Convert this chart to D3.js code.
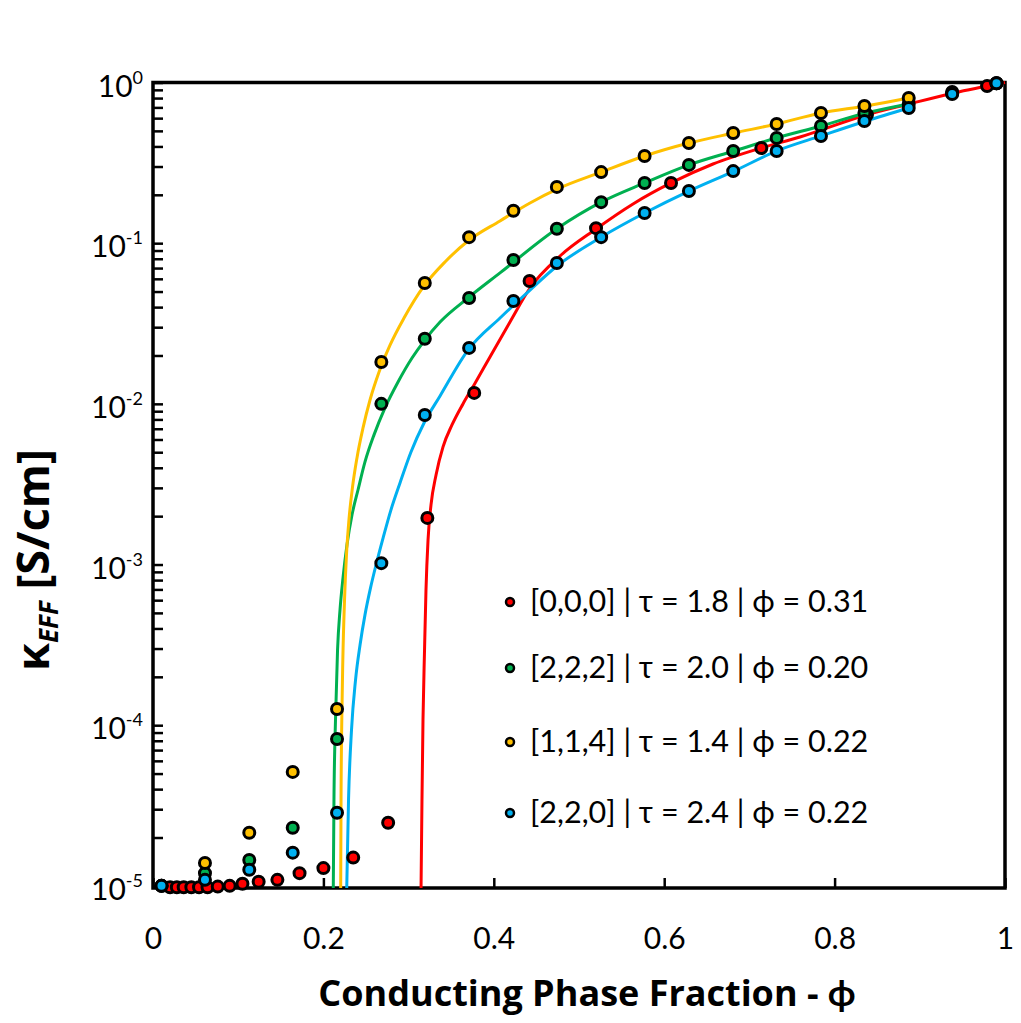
<!DOCTYPE html>
<meta charset="utf-8">
<body style="margin:0;background-color:white;">
<svg width="1021" height="1023"></svg>
<script src="https://d3js.org/d3.v7.min.js"></script>
<script>

// ---- data ----
var seriesNames = ["[0,0,0] | \u03c4 = 1.8 | \u03d5 = 0.31", "[2,2,2] | \u03c4 = 2.0 | \u03d5 = 0.20",
                   "[1,1,4] | \u03c4 = 1.4 | \u03d5 = 0.22", "[2,2,0] | \u03c4 = 2.4 | \u03d5 = 0.22"];
var seriesColors = ["#ff0000", "#00b050", "#ffc000", "#00b0f0"];

// simulated points (measured)
var phiGrid = [0.01, 0.061, 0.113, 0.164, 0.216, 0.268, 0.319, 0.371, 0.423, 0.474,
               0.526, 0.577, 0.629, 0.681, 0.732, 0.784, 0.835, 0.887, 0.938, 0.99];
var kGreen  = [1e-5, 1.2e-5, 1.45e-5, 2.3e-5, 8.2e-5, 0.0100, 0.0254, 0.0456, 0.0786, 0.123,
               0.180, 0.237, 0.307, 0.375, 0.452, 0.536, 0.646, 0.735, 0.86, 0.99];
var kYellow = [1e-5, 1.39e-5, 2.14e-5, 5.12e-5, 1.26e-4, 0.0182, 0.0565, 0.109, 0.159, 0.224,
               0.277, 0.349, 0.420, 0.485, 0.552, 0.646, 0.714, 0.801, 0.873, 0.99];
var kBlue   = [1e-5, 1.09e-5, 1.26e-5, 1.61e-5, 2.85e-5, 1.02e-3, 8.53e-3, 0.0223, 0.0437, 0.0753,
               0.109, 0.154, 0.211, 0.281, 0.375, 0.465, 0.576, 0.694, 0.847, 0.99];
var phiRed  = [0.02, 0.028, 0.036, 0.045, 0.054, 0.064, 0.076, 0.09, 0.105, 0.124, 0.146, 0.172,
               0.2, 0.235, 0.276, 0.322, 0.377, 0.442, 0.52, 0.608, 0.714, 0.838, 0.979];
var kRed    = [9.8e-6, 9.8e-6, 9.8e-6, 9.8e-6, 9.8e-6, 9.8e-6, 9.9e-6, 1.0e-5, 1.03e-5, 1.06e-5, 1.09e-5, 1.2e-5,
               1.29e-5, 1.5e-5, 2.47e-5, 1.95e-3, 0.0117, 0.0582, 0.124, 0.237, 0.391, 0.63, 0.95];

// fitted curves (traced)
var fitPhiRed = [0.3146, 0.3157, 0.3169, 0.3187, 0.3204, 0.3228, 0.3263, 0.3322, 0.3404, 0.3509, 0.3638, 0.3768,
                 0.3955, 0.4190, 0.4425, 0.4777, 0.5200, 0.5634, 0.6080, 0.6573, 0.7136, 0.7594, 0.8369, 0.8873, 0.9401, 1.0];
var fitKRed   = [9.7e-6, 3.43e-5, 1.08e-4, 2.94e-4, 6.95e-4, 1.42e-3, 2.35e-3, 3.61e-3, 5.40e-3, 7.39e-3, 9.99e-3, 0.01312,
                 0.0196, 0.0323, 0.0526, 0.0832, 0.1226, 0.1754, 0.237, 0.311, 0.391, 0.458, 0.628, 0.735, 0.861, 1.0];
var fitPhiGreen = [0.2116, 0.2124, 0.2142, 0.2166, 0.2195, 0.2230, 0.2277, 0.2336, 0.2406, 0.2488, 0.2594, 0.2723,
                   0.2876, 0.3040, 0.3181, 0.3369, 0.3697, 0.4073, 0.474, 0.526, 0.577, 0.629, 0.682, 0.732, 0.784, 0.837, 0.887];
var fitKGreen   = [9.7e-6, 3.43e-5, 1.08e-4, 2.94e-4, 5.22e-4, 8.26e-4, 1.33e-3, 2.04e-3, 2.91e-3, 4.35e-3, 6.41e-3, 9.44e-3,
                   0.01368, 0.01928, 0.0246, 0.0323, 0.0456, 0.0653, 0.123, 0.180, 0.237, 0.307, 0.375, 0.452, 0.536, 0.646, 0.735];
var fitPhiYellow = [0.2203, 0.2207, 0.2216, 0.2228, 0.2248, 0.2271, 0.2300, 0.2342, 0.2394, 0.2465, 0.2547, 0.2653,
                    0.2782, 0.2946, 0.3181, 0.3427, 0.3697, 0.4073, 0.4425, 0.4742, 0.526, 0.577, 0.629, 0.682, 0.732,
                    0.784, 0.837, 0.887];
var fitKYellow   = [9.7e-6, 3.43e-5, 1.08e-4, 2.55e-4, 6.02e-4, 1.15e-3, 1.9e-3, 3.04e-3, 4.61e-3, 7.08e-3, 0.01057, 0.01578,
                    0.0232, 0.0342, 0.0542, 0.0764, 0.1032, 0.1375, 0.178, 0.217, 0.277, 0.349, 0.420, 0.485, 0.552,
                    0.646, 0.714, 0.801];
var fitPhiBlue = [0.2274, 0.2295, 0.2330, 0.2377, 0.2430, 0.2488, 0.2553, 0.2623, 0.2700, 0.2793, 0.2899, 0.3028,
                  0.3181, 0.3369, 0.3697, 0.4073, 0.4425, 0.4742, 0.526, 0.577, 0.629, 0.682, 0.732, 0.784, 0.837, 0.887];
var fitKBlue   = [9.7e-6, 3.43e-5, 9.35e-5, 1.91e-4, 3.16e-4, 4.86e-4, 7.15e-4, 1.02e-3, 1.46e-3, 2.19e-3, 3.22e-3, 5.02e-3,
                  7.60e-3, 0.01119, 0.0216, 0.0342, 0.0511, 0.0721, 0.109, 0.154, 0.211, 0.281, 0.375, 0.465, 0.576, 0.694];

var xTicks = [0, 0.2, 0.4, 0.6, 0.8, 1];
var yDecades = [-5, -4, -3, -2, -1, 0];

// ---- layout ----
var fontName = "Lato, 'Open Sans', sans-serif";
var titleFont = "'Open Sans', Lato, sans-serif";
var plotLeft = 153, plotRight = 1005, plotTop = 82.5, plotBottom = 888;

var svg = d3.select("svg");
var x = d3.scaleLinear().domain([0, 1]).range([plotLeft, plotRight]);
var y = d3.scaleLog().domain([9.7e-6, 1]).range([plotBottom, plotTop]);

// minor + major y ticks, pointing inward
var yTickVals = [];
yDecades.forEach(function(e) {
	var d = Math.pow(10, e);
	yTickVals.push(d);
	if (e < 0) for (var k = 2; k <= 9; k++) yTickVals.push(k * d);
});

svg.append("g")
	.attr("transform", "translate(" + plotLeft + ",0)")
	.call(d3.axisLeft(y).tickValues(yTickVals).tickSizeInner(-10).tickSizeOuter(0).tickFormat(""))
	.call(function(g) { g.select(".domain").remove(); })
	.selectAll("line").attr("stroke", "black").attr("stroke-width", 2.5);

var xAxis = svg.append("g")
	.attr("transform", "translate(0," + plotBottom + ")")
	.call(d3.axisBottom(x).tickValues(xTicks).tickSizeInner(-10).tickSizeOuter(0).tickPadding(40)
		.tickFormat(function(d) { return d3.format("")(+d.toFixed(1)); }));
xAxis.select(".domain").remove();
xAxis.selectAll("line").attr("stroke", "black").attr("stroke-width", 2.5);
xAxis.selectAll("text").attr("font-family", fontName).attr("font-size", 30).attr("fill", "black");

// y labels 10^n
var yLab = svg.append("g");
yDecades.forEach(function(e) {
	var t = yLab.append("text")
		.attr("x", plotLeft - 10)
		.attr("y", y(Math.pow(10, e)) + 14)
		.attr("text-anchor", "end")
		.attr("font-family", fontName)
		.attr("font-size", 30);
	t.append("tspan").text("10");
	t.append("tspan").attr("font-size", 18).attr("dy", -13).text(e === 0 ? "0" : "-" + (-e));
});

// frame
svg.append("rect")
	.attr("x", plotLeft).attr("y", plotTop)
	.attr("width", plotRight - plotLeft).attr("height", plotBottom - plotTop)
	.attr("fill", "none").attr("stroke", "black").attr("stroke-width", 3.5);

// curves
var line = d3.line()
	.x(function(d) { return x(d[0]); })
	.y(function(d) { return y(d[1]); })
	.curve(d3.curveMonotoneX);

var fits = [[fitPhiRed, fitKRed], [fitPhiGreen, fitKGreen], [fitPhiYellow, fitKYellow], [fitPhiBlue, fitKBlue]];
fits.forEach(function(f, i) {
	svg.append("path")
		.datum(d3.zip(f[0], f[1]))
		.attr("d", line)
		.attr("fill", "none")
		.attr("stroke", seriesColors[i])
		.attr("stroke-width", 3);
});

// points
var pointSets = [d3.zip(phiRed, kRed), d3.zip(phiGrid, kGreen), d3.zip(phiGrid, kYellow), d3.zip(phiGrid, kBlue)];
pointSets.forEach(function(pts, i) {
	svg.append("g").selectAll("circle")
		.data(pts)
		.enter().append("circle")
		.attr("cx", function(d) { return x(d[0]); })
		.attr("cy", function(d) { return y(d[1]); })
		.attr("r", 5.5)
		.attr("fill", seriesColors[i])
		.attr("stroke", "black")
		.attr("stroke-width", 3);
});

// legend
var legendY = [602, 668, 742, 813];
var legend = svg.append("g");
seriesNames.forEach(function(name, i) {
	legend.append("circle")
		.attr("cx", 510).attr("cy", legendY[i]).attr("r", 4)
		.attr("fill", seriesColors[i]).attr("stroke", "black").attr("stroke-width", 2.5);
	legend.append("text")
		.attr("x", 530).attr("y", legendY[i] + 10)
		.attr("font-family", fontName).attr("font-size", 30.5)
		.text(name);
});

// axis titles
svg.append("text")
	.attr("x", 587).attr("y", 1006)
	.attr("text-anchor", "middle")
	.attr("font-family", titleFont).attr("font-weight", "bold").attr("font-size", 36)
	.text("Conducting Phase Fraction - \u03d5");

var yTitle = svg.append("text")
	.attr("transform", "translate(49,560) rotate(-90)")
	.attr("text-anchor", "middle")
	.attr("font-family", titleFont).attr("font-weight", "bold").attr("font-size", 45);
yTitle.append("tspan").text("\u03ba");
yTitle.append("tspan").attr("font-size", 26).attr("font-style", "italic").attr("dy", 9).text("EFF");
yTitle.append("tspan").attr("dy", -9).text(" [S/cm]");

</script>
</body>
